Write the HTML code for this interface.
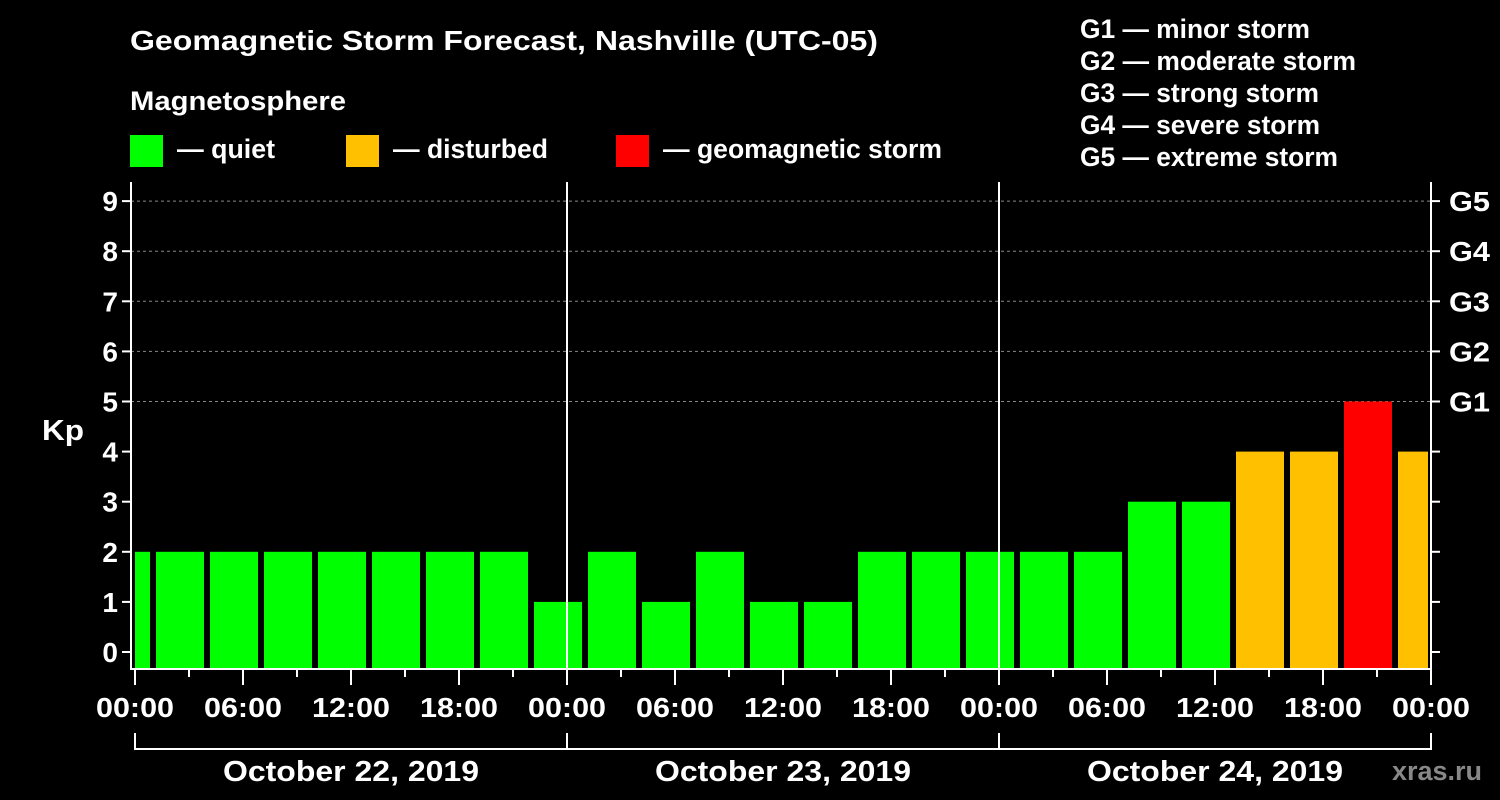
<!DOCTYPE html>
<html><head><meta charset="utf-8"><style>
html,body{margin:0;padding:0;background:#000;}
svg{display:block;font-family:"Liberation Sans",sans-serif;font-weight:bold;}
</style></head><body>
<svg id="c" width="1500" height="800" xmlns="http://www.w3.org/2000/svg">
<text x="130" y="50" fill="#fff" font-size="28" textLength="748" lengthAdjust="spacingAndGlyphs">Geomagnetic Storm Forecast, Nashville (UTC-05)</text>
<text x="130" y="110" fill="#fff" font-size="27" textLength="216" lengthAdjust="spacingAndGlyphs">Magnetosphere</text>
<g><rect x="130" y="135" width="33" height="32" fill="#00ff00"/><text x="177" y="158" fill="#fff" font-size="27" textLength="98" lengthAdjust="spacingAndGlyphs">— quiet</text></g>
<g><rect x="346" y="135" width="33" height="32" fill="#ffc000"/><text x="393" y="158" fill="#fff" font-size="27" textLength="155" lengthAdjust="spacingAndGlyphs">— disturbed</text></g>
<g><rect x="616" y="135" width="33" height="32" fill="#ff0000"/><text x="663" y="158" fill="#fff" font-size="27" textLength="279" lengthAdjust="spacingAndGlyphs">— geomagnetic storm</text></g>
<g fill="#fff" font-size="27">
<text x="1080" y="38" textLength="230" lengthAdjust="spacingAndGlyphs">G1 — minor storm</text>
<text x="1080" y="70" textLength="276" lengthAdjust="spacingAndGlyphs">G2 — moderate storm</text>
<text x="1080" y="102" textLength="239" lengthAdjust="spacingAndGlyphs">G3 — strong storm</text>
<text x="1080" y="134" textLength="240" lengthAdjust="spacingAndGlyphs">G4 — severe storm</text>
<text x="1080" y="166" textLength="258" lengthAdjust="spacingAndGlyphs">G5 — extreme storm</text>
</g>
<text x="42" y="440" fill="#fff" font-size="29" textLength="42" lengthAdjust="spacingAndGlyphs">Kp</text>
<g id="plot"></g>
<text x="1392" y="780" fill="#888" font-size="27" textLength="90" lengthAdjust="spacingAndGlyphs">xras.ru</text>
</svg>
<script>
const kpValues=[2,2,2,2,2,2,2,2,1,2,1,2,1,1,2,2,2,2,2,3,3,4,4,5,4];
const startHour=-2; // first bar starts at 22:00 previous day
const stepHours=3;
const dayLabels=["October 22, 2019","October 23, 2019","October 24, 2019"];
const yTicks=[0,1,2,3,4,5,6,7,8,9];
const gLabels=["G1","G2","G3","G4","G5"];
const xTickLabels=["00:00","06:00","12:00","18:00"];

const NS="http://www.w3.org/2000/svg";
const plot=document.getElementById('plot');
const X0=135,PXH=18,L=131,R=1431,T=182,B=669;
const xs=h=>X0+h*PXH;
const ys=v=>652-v*50.1;
function mk(tag,a,p){const e=document.createElementNS(NS,tag);for(const k in a)e.setAttribute(k,a[k]);(p||plot).appendChild(e);return e;}
const clip=mk('clipPath',{id:'pc'});mk('rect',{x:X0,y:T,width:R-3-X0,height:B-T},clip);
for(let v=5;v<=9;v++){const g=mk('line',{x1:L,x2:R,y1:ys(v),y2:ys(v),stroke:'#888','stroke-dasharray':'3,3','stroke-width':1});

}
const bg=mk('g',{'clip-path':'url(#pc)'});
kpValues.forEach((v,i)=>{const h0=startHour+i*stepHours;const x1=xs(h0)+3,x2=xs(h0+stepHours)-3;
const c=v>=5?'#ff0000':(v>=4?'#ffc000':'#00ff00');
const r=mk('rect',{x:x1,y:ys(v),width:x2-x1,height:B-ys(v),fill:c},bg);

});
[1,2].forEach(d=>{const l=mk('line',{x1:xs(24*d),x2:xs(24*d),y1:T,y2:B,stroke:'#fff','stroke-width':2});

});
mk('path',{d:`M${L} ${T}V${B}H${R}V${T}`,stroke:'#fff','stroke-width':2,fill:'none'});
yTicks.forEach(v=>{const y=ys(v);mk('line',{x1:L-9,x2:L,y1:y,y2:y,stroke:'#fff','stroke-width':2});mk('line',{x1:R,x2:R+9,y1:y,y2:y,stroke:'#fff','stroke-width':2});
const t=mk('text',{x:L-13,y:y+10,fill:'#fff','font-size':28,'text-anchor':'end'});t.textContent=v;

});
gLabels.forEach((g,i)=>{const t=mk('text',{x:R+18,y:ys(5+i)+10,fill:'#fff','font-size':28,textLength:41,lengthAdjust:'spacingAndGlyphs'});t.textContent=g;

});
for(let h=0;h<=72;h+=3){const x=xs(h);mk('line',{x1:x,x2:x,y1:B,y2:B+(h%6===0?16:8),stroke:'#fff','stroke-width':2});}
for(let h=0;h<=72;h+=6){const x=xs(h);const t=mk('text',{x:x-39,y:717,fill:'#fff','font-size':28,textLength:78,lengthAdjust:'spacingAndGlyphs'});t.textContent=h===72?'00:00':xTickLabels[(h/6)%4];

}
mk('path',{d:`M${xs(0)} 733V749H${xs(72)}V733`,stroke:'#fff','stroke-width':2,fill:'none'});
[1,2].forEach(d=>mk('line',{x1:xs(24*d),x2:xs(24*d),y1:733,y2:749,stroke:'#fff','stroke-width':2}));
dayLabels.forEach((s,i)=>{const t=mk('text',{x:xs(24*i+12)-128,y:781,fill:'#fff','font-size':29,textLength:256,lengthAdjust:'spacingAndGlyphs'});t.textContent=s;

});
</script>
</body></html>
